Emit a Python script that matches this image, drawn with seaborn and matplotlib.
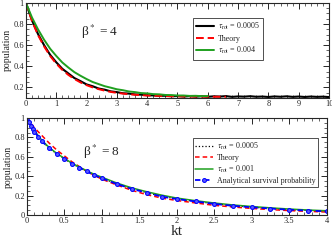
import numpy as np
import pandas as pd
import matplotlib
matplotlib.use('Agg')
import matplotlib.pyplot as plt
import seaborn as sns
from matplotlib.ticker import MultipleLocator

# ── data ──────────────────────────────────────────────────────────────────────
# top panel (beta* = 4), t grid with step 0.2
t_top = np.round(np.arange(0, 10.01, 0.2), 2)
black_top = [1.00, 0.835, 0.705, 0.600, 0.508, 0.438, 0.376, 0.332, 0.288, 0.259,
             0.228, 0.211, 0.189, 0.178, 0.162, 0.155, 0.144, 0.141, 0.133, 0.131,
             0.125, 0.124, 0.119, 0.121, 0.116, 0.118,
             0.113, 0.117, 0.112, 0.116, 0.111, 0.115, 0.113, 0.117, 0.110, 0.114,
             0.112, 0.116, 0.111, 0.113, 0.109, 0.114, 0.111, 0.115, 0.110, 0.113,
             0.109, 0.113, 0.110, 0.112, 0.108]
red_top = [1.00, 0.830, 0.695, 0.588, 0.497, 0.425, 0.366, 0.318, 0.279, 0.247,
           0.221, 0.200, 0.183, 0.169, 0.157, 0.148, 0.141, 0.135, 0.130, 0.126,
           0.123, 0.121, 0.119, 0.117, 0.116, 0.115, 0.114, 0.113, 0.113, 0.112,
           0.112, 0.111, 0.111, 0.111]
green_top = [1.00, 0.862, 0.749, 0.651, 0.566, 0.498, 0.436, 0.388, 0.344, 0.310,
             0.279, 0.251, 0.231, 0.211, 0.197, 0.182, 0.173, 0.161, 0.155, 0.146,
             0.143, 0.136, 0.134, 0.128, 0.127, 0.123, 0.123, 0.119, 0.120, 0.117,
             0.118]

# bottom panel (beta* = 8)
t_bot = [0, 0.025, 0.05, 0.075, 0.1, 0.15, 0.2, 0.3, 0.4, 0.5, 0.6, 0.7, 0.8, 0.9,
         1.0, 1.2, 1.4, 1.6, 1.8, 2.0, 2.25, 2.5, 2.75, 3.0, 3.25, 3.5, 3.75, 4.0]
black_bot = [1.00, 0.96, 0.92, 0.89, 0.86, 0.81, 0.76, 0.69, 0.63, 0.58, 0.53, 0.49,
             0.45, 0.41, 0.38, 0.32, 0.27, 0.23, 0.195, 0.167, 0.141, 0.117, 0.097,
             0.081, 0.068, 0.056, 0.047, 0.039]
red_bot = [1.00, 0.975, 0.95, 0.925, 0.90, 0.86, 0.82, 0.74, 0.67, 0.61, 0.55, 0.50,
           0.45, 0.41, 0.37, 0.31, 0.255, 0.21, 0.175, 0.15, 0.125, 0.10, 0.083,
           0.068, 0.056, 0.046, 0.038, 0.031]
green_bot = [1.00, 0.965, 0.93, 0.90, 0.87, 0.82, 0.77, 0.695, 0.635, 0.585, 0.535,
             0.495, 0.455, 0.42, 0.39, 0.33, 0.28, 0.24, 0.205, 0.175, 0.148, 0.124,
             0.104, 0.088, 0.074, 0.062, 0.052, 0.044]
blue_bot = [1.00, 0.96, 0.92, 0.89, 0.86, 0.81, 0.76, 0.69, 0.63, 0.58, 0.53, 0.49,
            0.45, 0.41, 0.38, 0.32, 0.27, 0.23, 0.19, 0.165, 0.14, 0.115, 0.095,
            0.08, 0.067, 0.055, 0.046, 0.038]

# ── style ─────────────────────────────────────────────────────────────────────
sns.set_style('ticks')
plt.rcParams['font.family'] = ['Liberation Serif', 'DejaVu Serif']
plt.rcParams['mathtext.fontset'] = 'stix'
plt.rcParams['xtick.direction'] = 'in'
plt.rcParams['ytick.direction'] = 'in'

fig = plt.figure(figsize=(3.32, 2.40), dpi=100)
ax1 = fig.add_axes([0.078, 0.592, 0.913, 0.396])
ax2 = fig.add_axes([0.081, 0.104, 0.903, 0.404])

# ── top panel ─────────────────────────────────────────────────────────────────
sns.lineplot(x=t_top, y=black_top, ax=ax1, color='black', lw=1.5,
             label=r'$\tau_{\rm rot}$ = 0.0005')
sns.lineplot(x=t_top[:len(red_top)], y=red_top, ax=ax1, color='red', lw=1.4,
             linestyle=(0, (4, 2)), label='Theory')
sns.lineplot(x=t_top[:len(green_top)], y=green_top, ax=ax1, color='#1fa01f', lw=1.4,
             label=r'$\tau_{\rm rot}$ = 0.004')
ax1.set_xlim(0, 10)
ax1.set_ylim(0.1, 1.0)
ax1.xaxis.set_major_locator(MultipleLocator(1))
ax1.xaxis.set_minor_locator(MultipleLocator(0.2))
ax1.yaxis.set_minor_locator(MultipleLocator(0.05))
ax1.set_yticks([0.2, 0.4, 0.6, 0.8, 1.0])
ax1.set_yticklabels(['0.2', '0.4', '0.6', '0.8', '1'])
ax1.set_ylabel('population', fontsize=7, labelpad=1)
ax1.text(2.45, 0.725, 'β$^*$ = 4', fontsize=9.5, ha='center', va='center')
ax1.legend(loc='upper left', bbox_to_anchor=(0.551, 0.842), fontsize=5.8,
           frameon=True, fancybox=False, edgecolor='black', handlelength=2.2,
           borderpad=0.4, labelspacing=0.3, handletextpad=0.5, borderaxespad=0)

# ── bottom panel ──────────────────────────────────────────────────────────────
sns.lineplot(x=t_bot, y=black_bot, ax=ax2, color='black', lw=0.9, linestyle=':',
             label=r'$\tau_{\rm rot}$ = 0.0005')
sns.lineplot(x=t_bot, y=red_bot, ax=ax2, color='red', lw=1.1,
             linestyle=(0, (3, 2)), label='Theory')
sns.lineplot(x=t_bot, y=green_bot, ax=ax2, color='#1fa01f', lw=1.1,
             label=r'$\tau_{\rm rot}$ = 0.001')
sns.lineplot(x=t_bot, y=blue_bot, ax=ax2, color='blue', lw=1.3,
             linestyle=(0, (3, 2)), marker='o', markersize=2.8,
             markerfacecolor='#5a5aff', markeredgecolor='blue',
             label='Analytical survival probability')
ax2.set_xlim(0, 4)
ax2.set_ylim(0, 1.0)
ax2.set_xticks([0, 0.5, 1, 1.5, 2, 2.5, 3, 3.5, 4])
ax2.set_xticklabels(['0', '0.5', '1', '1.5', '2', '2.5', '3', '3.5', '4'])
ax2.xaxis.set_minor_locator(MultipleLocator(0.1))
ax2.set_yticks([0, 0.2, 0.4, 0.6, 0.8, 1.0])
ax2.set_yticklabels(['0', '0.2', '0.4', '0.6', '0.8', '1'])
ax2.yaxis.set_minor_locator(MultipleLocator(0.05))
ax2.set_ylabel('population', fontsize=7, labelpad=1)
ax2.set_xlabel('kt', fontsize=11, labelpad=0)
ax2.text(1.0, 0.65, 'β$^*$ = 8', fontsize=9.5, ha='center', va='center')
ax2.legend(loc='upper left', bbox_to_anchor=(0.553, 0.794), fontsize=5.8,
           frameon=True, fancybox=False, edgecolor='black', handlelength=2.2,
           borderpad=0.3, labelspacing=0.25, handletextpad=0.5, borderaxespad=0)

for ax in (ax1, ax2):
    ax.tick_params(which='both', top=True, right=True, labelsize=6, pad=1.5)
    ax.tick_params(which='major', length=4, width=0.7)
    ax.tick_params(which='minor', length=2, width=0.5)
    for s in ax.spines.values():
        s.set_linewidth(0.8)
    ax.legend_.get_frame().set_linewidth(0.6)

fig.savefig('out.png', dpi=100)
